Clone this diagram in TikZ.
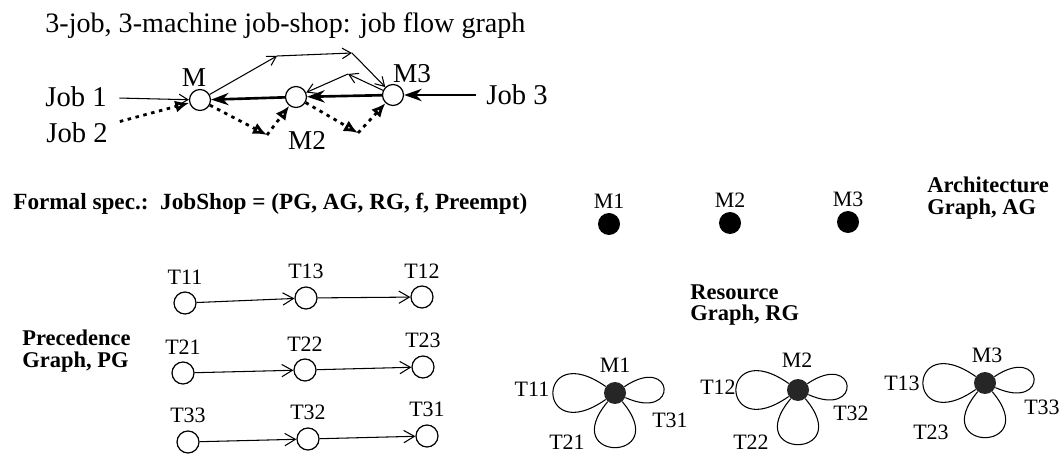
\documentclass[tikz,border=0pt]{standalone}
\usepackage{fontspec}
\setmainfont{Liberation Serif}
\usetikzlibrary{arrows.meta,positioning}

\begin{document}
\begin{tikzpicture}[x=0.02cm, y=0.02cm,
    every node/.style={inner sep=0pt},
    mach/.style={circle, draw, line width=0.7pt, fill=white, minimum size=0.42cm},
    task/.style={circle, draw, line width=0.7pt, minimum size=0.44cm},
    res/.style={circle, fill=black, minimum size=0.44cm},
    flowlbl/.style={font=\fontsize{15.5}{17}\selectfont},
    joblbl/.style={font=\fontsize{16.3}{18}\selectfont},
    tlbl/.style={font=\fontsize{12.5}{14}\selectfont},
    heading/.style={font=\fontsize{12.8}{12}\selectfont\bfseries, align=left},
    jobone/.style={-{Straight Barb[length=5pt,width=6pt]}, line width=0.6pt},
    jobtwo/.style={-{Latex[open,length=8pt,width=7pt]}, line width=1.6pt, dash pattern=on 2pt off 2.6pt},
    jobthree/.style={-{Stealth[length=10pt,width=7pt]}, line width=1.5pt},
    prec/.style={-{Straight Barb[length=6pt,width=7pt]}, line width=0.6pt},
    petal/.style={line width=0.6pt}]

    \useasboundingbox (0,0) rectangle (1061,-455);

    % Job flow graph
    \node[anchor=base west, font=\fontsize{16}{18}\selectfont] (title) at (45,-33)
        {3-job, 3-machine job-shop: job flow graph};
    \node[mach] (m1) at (200,-100) {};
    \node[mach] (m2) at (296,-97) {};
    \node[mach] (m3) at (393,-95) {};
    \node[flowlbl] (lm1) at (194,-78) {M};
    \node[flowlbl] (lm2) at (307,-140) {M2};
    \node[flowlbl] (lm3) at (412,-74) {M3};
    \node[joblbl] (job1) at (76,-97) {Job 1};
    \node[joblbl] (job2) at (77,-133) {Job 2};
    \node[joblbl] (job3) at (517,-95) {Job 3};

    % Bends of the job routes
    \coordinate (j1a) at (277,-56);
    \coordinate (j1b) at (352,-53);
    \coordinate (j1c) at (348,-74);
    \coordinate (j2a) at (267,-135);
    \coordinate (j2b) at (358,-133);

    % Job 1: M1 -> M3 -> M2
    \draw[jobone, shorten <=7pt] (job1) -- (m1);
    \draw[jobone] (m1) -- (j1a);
    \draw[jobone] (j1a) -- (j1b);
    \draw[jobone] (j1b) -- (m3);
    \draw[jobone] (m3) -- (j1c);
    \draw[jobone] (j1c) -- (m2);

    % Job 2: M1 -> M2 -> M3
    \draw[jobtwo, shorten <=7pt] (job2) -- (m1);
    \draw[jobtwo] (m1) -- (j2a);
    \draw[jobtwo] (j2a) -- (m2);
    \draw[jobtwo] (m2) -- (j2b);
    \draw[jobtwo] (j2b) -- (m3);

    % Job 3: M3 -> M2 -> M1
    \draw[jobthree, shorten <=5.5pt] (job3) -- (m3);
    \draw[jobthree] (m3) -- (m2);
    \draw[jobthree] (m2) -- (m1);

    % Formal spec
    \node[anchor=base west, font=\fontsize{13.2}{15}\selectfont\bfseries] (spec) at (13,-210)
        {Formal spec.:\ \ JobShop = (PG, AG, RG, f, Preempt)};

    % Architecture graph
    \foreach \i/\x/\y in {1/609/224, 2/730/223, 3/848/222} {
        \node[res] (ag\i) at (\x,-\y) {};
        \node[tlbl, above=2pt of ag\i] (lag\i) {M\i};
    }
    \node[heading, anchor=north west] (aglbl) at (927,-177) {Architecture\\Graph, AG};

    % Precedence graph
    \node[heading, anchor=north west] (pglbl) at (22,-330) {Precedence\\Graph, PG};
    \foreach \t/\x/\y in {
        11/185/303, 13/306/298, 12/422/297,
        21/183/373, 22/305/370, 23/423/367,
        33/188/442, 32/308/439, 31/427/436
    } {
        \node[task] (t\t) at (\x,-\y) {};
        \node[tlbl, above=4pt of t\t] (lt\t) {T\t};
    }
    \foreach \s/\e in {11/13, 13/12, 21/22, 22/23, 33/32, 32/31}
        \draw[prec] (t\s) -- (t\e);

    % Resource graph
    \node[heading, anchor=north west] (rglbl) at (690,-284) {Resource\\Graph, RG};
    \foreach \i/\x/\y in {1/615/393, 2/798/390, 3/985/383} {
        \node[res, fill=black!85] (rg\i) at (\x,-\y) {};
        \draw[petal] (rg\i.145) .. controls +(145:86) and +(215:86) .. (rg\i.215);
        \draw[petal] (rg\i.34) .. controls +(34:60) and +(-24:60) .. (rg\i.-24);
        \draw[petal] (rg\i.230) .. controls +(230:80) and +(310:80) .. (rg\i.310);
    }
    \foreach \n/\x/\y in {
        M1/615/365, T11/532/389, T31/670/420, T21/567/442,
        M2/797/360, T12/718/387, T32/851/413, T22/751/442,
        M3/987/355, T13/902/383, T33/1042/407, T23/931/432
    }
        \node[tlbl] (r\n) at (\x,-\y) {\n};
\end{tikzpicture}
\end{document}
